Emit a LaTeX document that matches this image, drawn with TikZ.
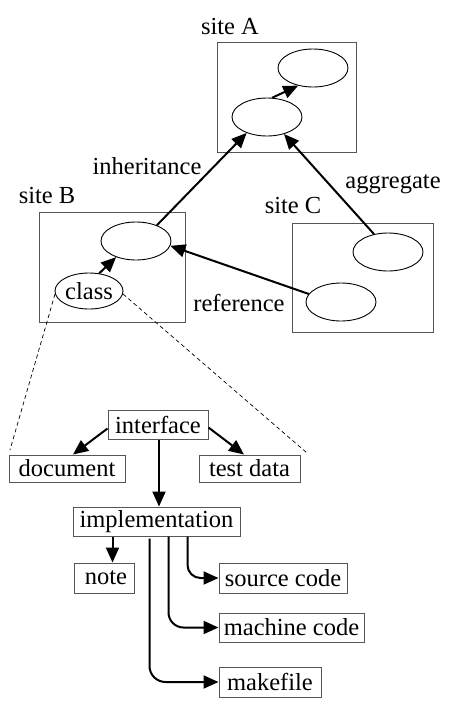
\documentclass[tikz,border=0pt]{standalone}
\usepackage{fontspec}
\setmainfont{Liberation Serif}
\usetikzlibrary{shapes.geometric,arrows.meta,calc}
\definecolor{boxgray}{RGB}{85,85,85}
\begin{document}
\begin{tikzpicture}[x=1pt,y=-1pt,
  every node/.style={font=\fontsize{24.5}{28}\selectfont},
  site/.style={draw=boxgray,line width=1pt,inner sep=0pt},
  obj/.style={draw,ellipse,line width=0.9pt,minimum width=70pt,minimum height=38pt,inner sep=0pt},
  item/.style={draw=boxgray,line width=1pt,inner sep=0pt,minimum height=29pt},
  lbl/.style={inner sep=0pt},
  arr/.style={line width=2pt,-{Triangle[length=15pt,width=13pt]}},
  zoomline/.style={line width=0.7pt,dash pattern=on 4pt off 3pt}]
\useasboundingbox (0,0) rectangle (455,710);
% sites
\node[site,minimum width=139pt,minimum height=110pt] (siteA) at (286.5,97) {};
\node[site,minimum width=146pt,minimum height=110pt] (siteB) at (112,267) {};
\node[site,minimum width=141pt,minimum height=109pt] (siteC) at (362.5,277.5) {};
\node[lbl] (labA) at (230,27) {site A};
\node[lbl] (labB) at (47,196) {site B};
\node[lbl] (labC) at (293,206) {site C};
% objects
\node[obj] (A1) at (313,68) {};
\node[obj] (A2) at (267,117) {};
\node[obj] (B1) at (136,241) {};
\node[obj,minimum width=68pt,minimum height=36pt] (cls) at (89,291) {class};
\node[obj] (C1) at (388,252) {};
\node[obj] (C2) at (341,302) {};
% relations
\draw[arr] (A2.75) -- (A1.230);
\draw[arr] (cls.60) -- (B1.219);
\draw[arr] (B1.37) -- (A2.218);
\draw[arr] (C1.128) -- (A2.315);
\draw[arr] (C2.166) -- (B1.352);
\node[lbl] (inh) at (147,166) {inheritance};
\node[lbl] (agg) at (393,184) {aggregate};
\node[lbl] (ref) at (239,303) {reference};
% items
\node[item,minimum width=100pt] (iface) at (158,424.5) {interface};
\node[item,minimum width=116pt,minimum height=27pt] (doc) at (67,468.5) {document};
\node[item,minimum width=101pt,minimum height=27pt] (test) at (249.5,468.5) {test data};
\node[item,minimum width=167pt] (impl) at (156.5,521.5) {implementation};
\node[item,minimum width=60pt,minimum height=30pt] (note) at (104,578) {\hspace{4pt}note};
\node[item,minimum width=128pt,minimum height=30pt] (src) at (283,578) {source code};
\node[item,minimum width=145pt] (mach) at (291.5,627.5) {machine code};
\node[item,minimum width=102pt,minimum height=30pt] (make) at (270,682) {makefile};
% dashed zoom lines
\coordinate (dl) at (10,450);
\coordinate (dr) at (307,453);
\draw[zoomline] (cls.185) -- (dl);
\draw[zoomline] (cls.355) -- (dr);
% item arrows
\draw[arr] ($(iface.west)+(0,4)$) -- ($(doc.north)+(6,0)$);
\draw[arr] ($(iface.east)+(0,3)$) -- ($(test.north)+(-5.5,0)$);
\draw[arr] ($(iface.south)+(1,0)$) -- ($(iface.south |- impl.north)+(1,0)$);
\coordinate (pn) at ($(impl.south west)+(40,0)$);
\draw[arr] (pn) -- (pn |- note.north);
\coordinate (ps) at ($(impl.south west)+(115,0)$);
\coordinate (pm) at ($(impl.south west)+(96,0)$);
\coordinate (pk) at ($(impl.south west)+(77,2)$);
\draw[arr,rounded corners=13pt] (ps) |- (src.west);
\draw[arr,rounded corners=15pt] (pm) |- (mach.west);
\draw[arr,rounded corners=16pt] (pk) |- (make.west);
\end{tikzpicture}
\end{document}
